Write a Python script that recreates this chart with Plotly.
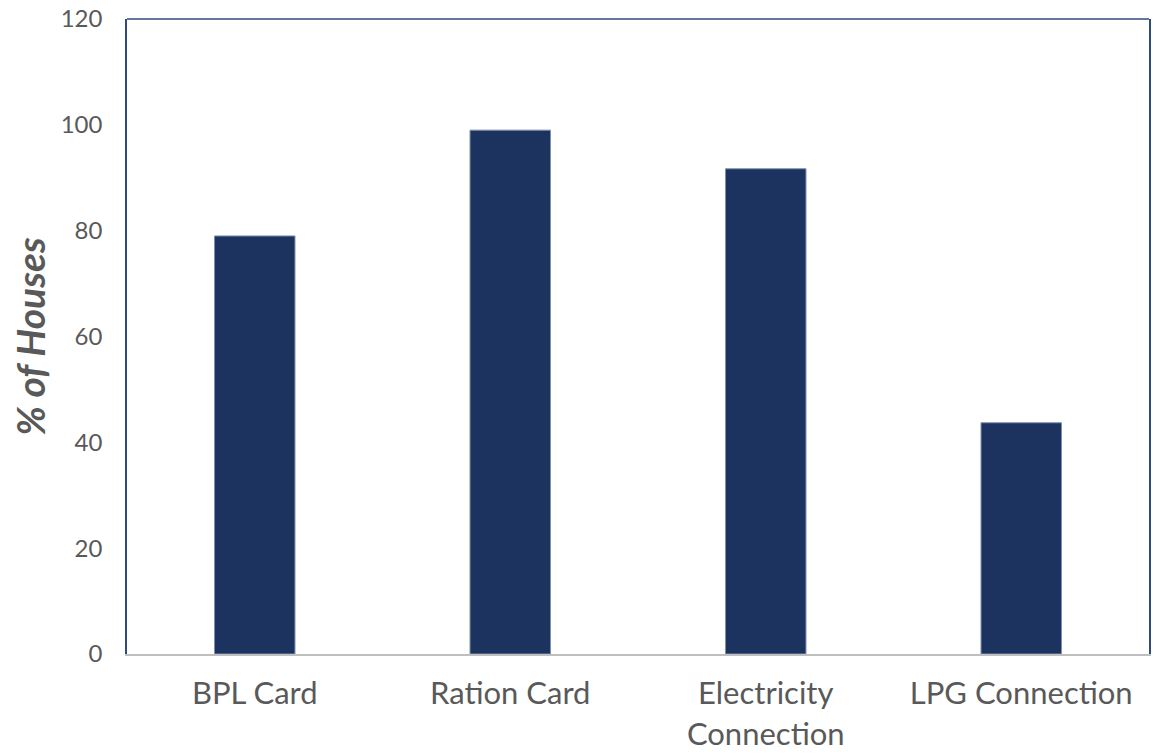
import plotly.graph_objects as go

categories = ["BPL Card", "Ration Card", "Electricity<br>Connection", "LPG Connection"]
values = [79, 99, 91.7, 43.7]
y_ticks = [0, 20, 40, 60, 80, 100, 120]

fig = go.Figure()
fig.add_trace(go.Bar(
    x=categories, y=values,
    marker=dict(color="#1c3360", line=dict(color="#7f8fae", width=1)),
    width=0.315,
))

fig.update_layout(
    width=1162, height=753,
    margin=dict(l=127, r=13, t=19, b=99, autoexpand=False),
    paper_bgcolor="white", plot_bgcolor="white",
    showlegend=False,
    font=dict(family="Lato, Open Sans, sans-serif", color="#595959"),
)
fig.update_yaxes(
    range=[0, 120], tickvals=y_ticks, showgrid=False, zeroline=False,
    showline=True, linecolor="#2f4b7c", linewidth=1.5, mirror=True,
    ticks="", tickfont=dict(size=24, color="#595959"), ticklabelstandoff=18,
    automargin=False,
    title=dict(text="<b><i>% of Houses</i></b>", font=dict(size=39, color="#595959"), standoff=3),
)
fig.update_xaxes(
    showgrid=False, showline=True, linecolor="#bfbfbf", linewidth=2,
    automargin=False,
    ticks="", tickfont=dict(size=31, color="#595959"), ticklabelstandoff=11,
)
fig.add_shape(type="line", xref="paper", yref="paper", x0=0, x1=1, y0=1, y1=1,
              line=dict(color="#2f4b7c", width=1.5))

fig.write_html(
    "out.html",
    config={"displayModeBar": False},
    post_script="document.body.style.margin='0';document.body.style.overflow='hidden';",
)
